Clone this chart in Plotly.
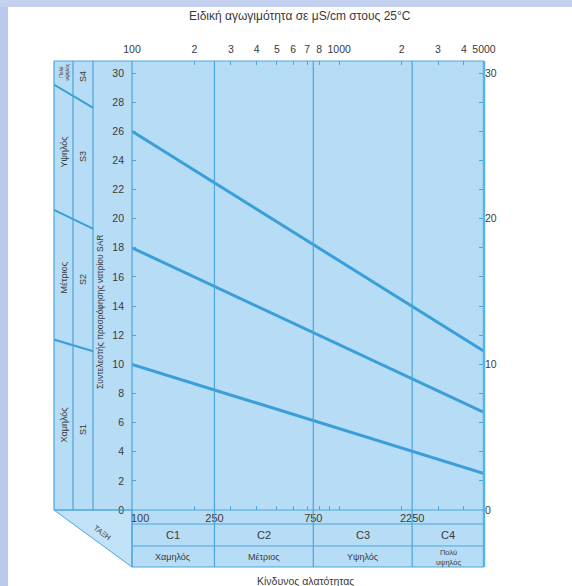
import math
import plotly.graph_objects as go

# ---------------- data ----------------
ec_ends = [100, 5000]                 # EC (uS/cm) at the ends of the class boundaries
s1_s2 = [10.0, 2.5]                   # SAR boundary S1/S2
s2_s3 = [18.0, 6.7]                   # SAR boundary S2/S3
s3_s4 = [26.0, 10.9]                  # SAR boundary S3/S4

col_ec = [42, 65]                     # EC at edges of the side columns
s1_s2_col = [11.7, 10.9]
s2_s3_col = [20.6, 19.3]
s3_s4_col = [29.2, 27.6]

top_vals = [100, 200, 300, 400, 500, 600, 700, 800, 1000, 2000, 3000, 4000, 5000]
top_text = ['100', '2', '3', '4', '5', '6', '7', '8', '1000', '2', '3', '4', '5000']
minor_vals = [200, 300, 400, 500, 600, 700, 800, 900, 1000, 2000, 3000, 4000]
class_bounds = [100, 250, 750, 2250, 5000]
c_labels = ['C1', 'C2', 'C3', 'C4']
c_names = ['Χαμηλός', 'Μέτριος', 'Υψηλός', 'Πολύ<br>υψηλός']
s_labels = ['S1', 'S2', 'S3', 'S4']
s_names = ['Χαμηλός', 'Μέτριος', 'Υψηλός', 'Πολύ<br>υψηλός']
sar_ticks = list(range(0, 31, 2))
right_labels = [0, 10, 20, 30]

title = 'Ειδική αγωγιμότητα σε μS/cm στους 25°C'
sar_title = 'Συντελεστής προσρόφησης νατρίου SAR'
bottom_title = 'Κίνδυνος αλατότητας'
class_word = 'ΤΑΞΗ'

# ---------------- layout helpers ----------------
W, H = 572, 586
L, R, T, B = 54, 484, 61, 567
def px(x): return (x - L) / (R - L)
def py(y): return (B - y) / (B - T)

FILL = '#b6ddf5'
LINE = '#3a9fd9'
THIN = '#4aa6dd'
TXT = '#3a3a3a'
FONT = 'Liberation Sans, Arial, sans-serif'

ymax = (510 - T) / ((510 - 73) / 30)
dec_px = (R - 132) / math.log10(50)
xleft = 2 - (132 - L) / dec_px
xr = [2, math.log10(5000)]
ydom = [py(510), 1]
xdom = [px(132), 1]

fig = go.Figure()
lw = 3
fig.add_trace(go.Scatter(x=ec_ends, y=s1_s2, mode='lines', line=dict(color=LINE, width=lw),
                         xaxis='x', yaxis='y', hoverinfo='skip', showlegend=False))
fig.add_trace(go.Scatter(x=ec_ends, y=s2_s3, mode='lines', line=dict(color=LINE, width=lw),
                         xaxis='x2', yaxis='y', hoverinfo='skip', showlegend=False))
fig.add_trace(go.Scatter(x=ec_ends, y=s3_s4, mode='lines', line=dict(color=LINE, width=lw),
                         xaxis='x', yaxis='y2', hoverinfo='skip', showlegend=False))
for yy in (s1_s2_col, s2_s3_col, s3_s4_col):
    fig.add_trace(go.Scatter(x=col_ec, y=yy, mode='lines', line=dict(color=LINE, width=2),
                             xaxis='x3', yaxis='y3', hoverinfo='skip', showlegend=False))

shapes = []
# page background strips
shapes.append(dict(type='rect', xref='paper', yref='paper', x0=px(0), x1=px(8), y0=py(586), y1=py(0),
                   fillcolor='#b9c8eb', line=dict(width=0), layer='below'))
shapes.append(dict(type='rect', xref='paper', yref='paper', x0=px(0), x1=px(572), y0=py(7), y1=py(0),
                   fillcolor='#c4d1ef', line=dict(width=0), layer='below'))
# blue fills
shapes.append(dict(type='rect', xref='paper', yref='paper', x0=0, x1=1, y0=py(510), y1=1,
                   fillcolor=FILL, line=dict(width=0), layer='below'))
shapes.append(dict(type='rect', xref='paper', yref='paper', x0=px(132), x1=1, y0=0, y1=py(510),
                   fillcolor=FILL, line=dict(width=0), layer='below'))
shapes.append(dict(type='path', xref='paper', yref='paper',
                   path=f'M {0} {py(510)} L {px(132)} {py(510)} L {px(132)} {0} Z',
                   fillcolor='#c2e3f7', line=dict(color=THIN, width=1), layer='below'))
# vertical lines of side columns
for xx in (54, 73, 93):
    shapes.append(dict(type='line', xref='paper', yref='paper', x0=px(xx), x1=px(xx), y0=py(510), y1=1,
                       line=dict(color=THIN, width=1.2)))
shapes.append(dict(type='line', xref='paper', yref='paper', x0=px(132), x1=px(132), y0=0, y1=1,
                   line=dict(color=THIN, width=1.2)))
for cb in class_bounds[1:-1]:
    shapes.append(dict(type='line', xref='x', yref='paper', x0=cb, x1=cb, y0=0, y1=1,
                       line=dict(color=THIN, width=1.2)))
shapes.append(dict(type='line', xref='paper', yref='paper', x0=1, x1=1, y0=0, y1=1,
                   line=dict(color='#58b3ea', width=2.5)))
shapes.append(dict(type='line', xref='paper', yref='paper', x0=0, x1=1, y0=1, y1=1,
                   line=dict(color=THIN, width=1.2)))
shapes.append(dict(type='line', xref='paper', yref='paper', x0=0, x1=1, y0=py(510), y1=py(510),
                   line=dict(color=THIN, width=1.2)))
for yy in (524, 546, 567):
    shapes.append(dict(type='line', xref='paper', yref='paper', x0=px(132), x1=1, y0=py(yy), y1=py(yy),
                       line=dict(color=THIN, width=1.2)))

ann = []
def A(text, x, y, size, angle=0, xref='paper'):
    ann.append(dict(text=text, x=x, y=y, xref=xref, yref='paper', showarrow=False,
                    xanchor='center', yanchor='middle', textangle=angle,
                    font=dict(size=size, color=TXT, family=FONT)))

A(title, px(300), py(16), 12)
A(bottom_title, px(305), py(581), 10.5)
A(class_word, px(102), py(532), 7.5, 37)
A(sar_title, px(100), py(312), 8.5, -90)
A(str(class_bounds[0]), px(140), py(518), 11)
for i in range(4):
    lo, hi = math.log10(class_bounds[i]), math.log10(class_bounds[i + 1])
    xc = (lo + hi) / 2
    A(c_labels[i], xc, py(535), 11, xref='x')
    A(c_names[i], xc, py(557), 9 if i < 3 else 7.5, xref='x')
s_y = [430, 280, 157, 77]
n_y = [425, 278, 152, 72]
for i in range(4):
    A(s_labels[i], px(83), py(s_y[i]), 9, -90)
    A(s_names[i], px(63.5), py(n_y[i]), 9 if i < 3 else 5, -90)

tickfont = dict(size=10.5, color=TXT, family=FONT)
fig.update_layout(
    width=W, height=H, margin=dict(l=L, r=W - R, t=T, b=H - B),
    paper_bgcolor='white', plot_bgcolor='rgba(0,0,0,0)',
    shapes=shapes, annotations=ann, showlegend=False,
    xaxis=dict(type='log', range=xr, domain=xdom, anchor='y', showgrid=False, zeroline=False,
               showline=False, tickvals=class_bounds[1:-1], ticktext=[str(v) for v in class_bounds[1:-1]],
               ticks='', tickfont=dict(size=11, color=TXT, family=FONT),
               minor=dict(tickvals=minor_vals, ticks='inside', ticklen=4, tickcolor=THIN, showgrid=False)),
    xaxis2=dict(type='log', range=xr, domain=xdom, anchor='y', overlaying='x', side='top',
                showgrid=False, zeroline=False, showline=False, tickvals=top_vals, ticktext=top_text,
                ticks='inside', ticklen=4, tickcolor=THIN, tickfont=tickfont, ticklabelstandoff=5),
    xaxis3=dict(type='log', range=[xleft, xr[1]], domain=[0, 1], anchor='y3', visible=False),
    yaxis=dict(range=[0, ymax], domain=ydom, anchor='x', showgrid=False, zeroline=False, showline=False,
               tickvals=sar_ticks, ticks='inside', ticklen=4, tickcolor=THIN, tickfont=tickfont,
               ticklabelstandoff=7),
    yaxis2=dict(range=[0, ymax], domain=ydom, anchor='x', overlaying='y', side='right', showgrid=False,
                zeroline=False, showline=False, tickvals=sar_ticks,
                ticktext=[str(v) if v in right_labels else '' for v in sar_ticks],
                ticks='inside', ticklen=5, tickcolor=THIN, tickfont=tickfont),
    yaxis3=dict(range=[0, ymax], domain=ydom, anchor='x3', visible=False),
)
fig.write_html('out.html', config={'displayModeBar': False},
               post_script="document.body.style.margin='0px';")
